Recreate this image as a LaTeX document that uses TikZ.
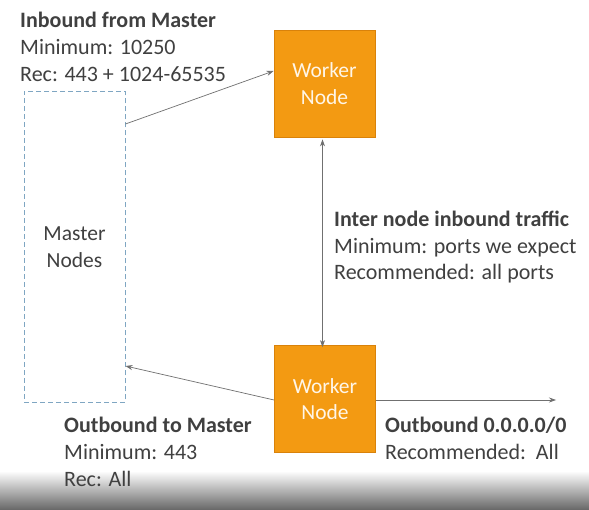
\documentclass[tikz,border=0pt]{standalone}
\usepackage{fontspec}
\setmainfont{Carlito}
\usetikzlibrary{arrows.meta}
\definecolor{txt}{HTML}{404040}
\definecolor{awsorange}{HTML}{F39A12}
\definecolor{awsedge}{HTML}{D9820A}
\definecolor{dashblue}{HTML}{7FA6C2}
\definecolor{linegray}{HTML}{707070}
\definecolor{workertxt}{HTML}{FFF6E8}
\begin{document}
\begin{tikzpicture}[x=1pt,y=-1pt,
  worker/.style={draw=awsedge,line width=0.8pt,fill=awsorange,minimum width=101pt,minimum height=107pt,inner sep=0pt,
     text=workertxt,align=center,font=\fontsize{21.5}{26.5}\selectfont},
  master/.style={draw=dashblue,dash pattern=on 5pt off 3pt,line width=1pt,minimum width=101pt,minimum height=311pt,inner sep=0pt,
     text=txt,align=center,font=\fontsize{21.5}{27}\selectfont},
  info/.style={anchor=base west,inner sep=0pt,text=txt,font=\fontsize{22}{27}\selectfont},
  conn/.style={draw=linegray,line width=0.7pt,-{Stealth[length=7pt,width=5pt]}},
  dconn/.style={draw=linegray,line width=0.7pt,{Stealth[length=7pt,width=5pt]}-{Stealth[length=7pt,width=5pt]}}]
\useasboundingbox (0,0) rectangle (589,510);
\fill[white] (0,0) rectangle (589,510);
\shade[top color=white,bottom color=black!60] (0,471) rectangle (589,510);
% boxes
\node[master] (m) at (74.5,247) {Master\\Nodes};
\node[worker] (w1) at (324.5,83.5) {Worker\\Node};
\node[worker] (w2) at (325,399) {Worker\\Node};
\coordinate (out) at (556,400);
% connectors
\draw[conn] (m.east |- 0,124) -- (w1.west |- 0,71);
\draw[conn] (w2.west |- 0,400) -- (m.east |- 0,366);
\draw[dconn] (w1.south -| 322.5,0) ++(0,2) -- ([yshift=-2pt]w2.north -| 322.5,0);
\draw[conn] (w2.east |- 0,400) -- (out);
% texts
\node[info] (t1) at (20,28) {\bfseries Inbound from Master};
\node[info] (t2) at (20,55) {Minimum: 10250};
\node[info] (t3) at (20,82) {Rec: 443 + 1024-65535};
\node[info] (t4) at (334,227) {\bfseries Inter node inbound traffic};
\node[info] (t5) at (334,253.5) {Minimum: ports we expect};
\node[info] (t6) at (334,280) {Recommended: all ports};
\node[info] (t7) at (64,432) {\bfseries Outbound to Master};
\node[info] (t8) at (64,459) {Minimum: 443};
\node[info] (t9) at (64,486) {Rec: All};
\node[info] (t10) at (385,432) {\bfseries Outbound 0.0.0.0/0};
\node[info] (t11) at (385,459) {Recommended:\ \ All};
\end{tikzpicture}
\end{document}
